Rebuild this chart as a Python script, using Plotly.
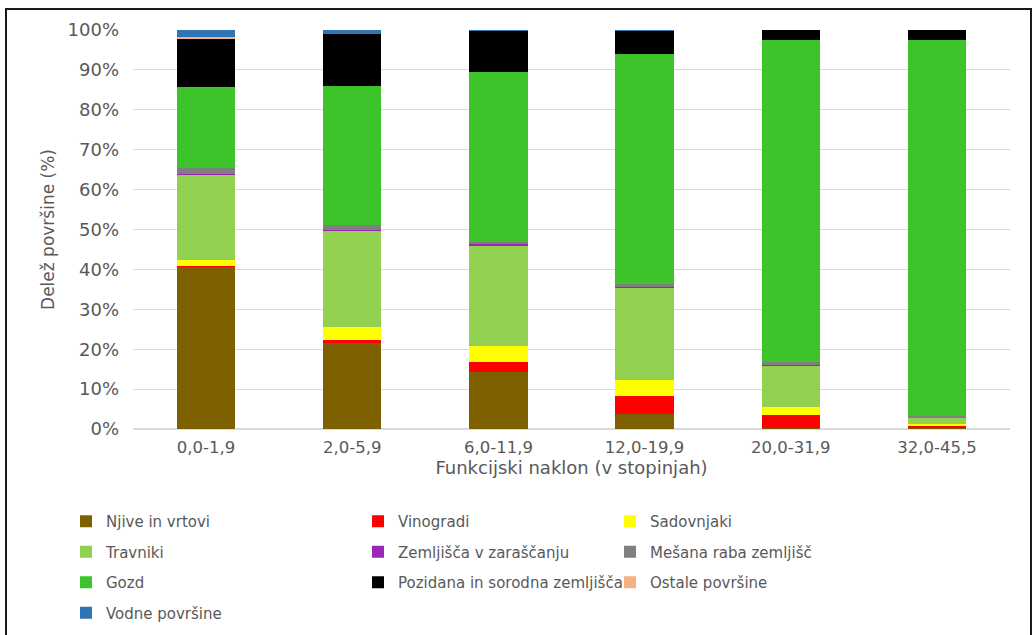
import plotly.graph_objects as go

categories = ["0,0-1,9", "2,0-5,9", "6,0-11,9", "12,0-19,9", "20,0-31,9", "32,0-45,5"]

njive = [40.7, 21.5, 14.4, 3.7, 0.2, 0.3]
vinogradi = [0.1, 0.8, 2.5, 4.6, 3.3, 0.4]
sadovnjaki = [1.5, 3.3, 4.0, 4.0, 1.9, 0.5]
travniki = [21.5, 24.1, 25.2, 23.1, 10.5, 1.6]
zarascanje = [0.2, 0.3, 0.3, 0.3, 0.2, 0.1]
mesana = [1.4, 1.1, 0.5, 0.6, 0.6, 0.3]
gozd = [20.2, 34.9, 42.6, 57.6, 80.9, 94.4]
pozidana = [12.2, 13.0, 10.3, 5.9, 2.4, 2.4]
ostale = [0.5, 0.1, 0.1, 0.1, 0.0, 0.0]
vodne = [1.7, 0.9, 0.1, 0.1, 0.0, 0.0]

series = [
    ("Njive in vrtovi", njive, "#7f6000", "legend"),
    ("Vinogradi", vinogradi, "#ff0000", "legend2"),
    ("Sadovnjaki", sadovnjaki, "#ffff00", "legend3"),
    ("Travniki", travniki, "#92d050", "legend"),
    ("Zemljišča v zaraščanju", zarascanje, "#9b26b6", "legend2"),
    ("Mešana raba zemljišč", mesana, "#7f7f7f", "legend3"),
    ("Gozd", gozd, "#3dc42b", "legend"),
    ("Pozidana in sorodna zemljišča", pozidana, "#000000", "legend2"),
    ("Ostale površine", ostale, "#f4b183", "legend3"),
    ("Vodne površine", vodne, "#2e75b6", "legend"),
]

fig = go.Figure()
for i, (name, vals, color, lg) in enumerate(series):
    fig.add_trace(go.Bar(
        x=categories, y=vals, name=name, marker=dict(color=color, line=dict(width=0)),
        legend=lg, legendgroup=f"g{i}",
    ))

font_color = "#595959"
leg_common = dict(orientation="v", traceorder="grouped", tracegroupgap=8,
                  font=dict(family="DejaVu Sans", size=15, color=font_color),
                  bgcolor="rgba(0,0,0,0)", borderwidth=0, yanchor="top", xanchor="left",
                  yref="container", y=(635 - 505) / 635)

fig.update_layout(
    width=1034, height=635,
    barmode="stack", bargap=0.6,
    paper_bgcolor="white", plot_bgcolor="white",
    margin=dict(l=133, r=24, t=30, b=206),
    font=dict(family="DejaVu Sans", size=15, color=font_color),
    xaxis=dict(
        title=dict(text="Funkcijski naklon (v stopinjah)", font=dict(size=18, color=font_color), standoff=5),
        tickfont=dict(size=16.5, color=font_color), showline=False, ticks="", ticklabelstandoff=6,
    ),
    yaxis=dict(
        title=dict(text="Delež površine (%)", font=dict(size=17, color=font_color), standoff=8),
        range=[0, 100], dtick=10, ticksuffix="%", tickfont=dict(size=18, color=font_color),
        ticklabelstandoff=13,
        showgrid=True, gridcolor="#d9d9d9", gridwidth=1, zeroline=True, zerolinecolor="#d9d9d9",
    ),
    legend=dict(x=(66 - 133) / 877, **leg_common),
    legend2=dict(x=(358 - 133) / 877, **leg_common),
    legend3=dict(x=(610 - 133) / 877, **leg_common),
    shapes=[dict(type="rect", xref="paper", yref="paper",
                 x0=(6 - 133) / 877, x1=(1031 - 133) / 877,
                 y0=(429 - 650) / 399, y1=(429 - 9) / 399,
                 line=dict(color="#1a1a1a", width=2), layer="above")],
)

fig.write_html("out.html", config={"displayModeBar": False},
               post_script="document.body.style.margin='0';")
